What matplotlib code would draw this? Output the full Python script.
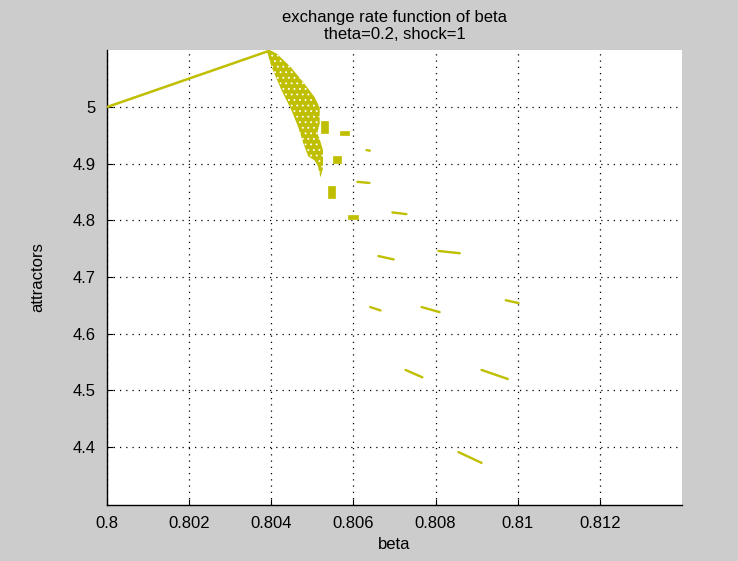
import matplotlib
matplotlib.use("Agg")
import matplotlib.pyplot as plt

plt.rcParams['font.family'] = ['Liberation Sans', 'DejaVu Sans']
plt.rcParams['hatch.linewidth'] = 0.6

# ---- data ----
# period-one branch
branch_beta = [0.8000, 0.80398]
branch_x = [5.000, 5.100]

# chaotic band outline (beta, attractor)
cloud_beta = [0.80398, 0.80414, 0.80448, 0.80482, 0.80506, 0.80518, 0.80518,
              0.80512, 0.80518, 0.80526, 0.80526, 0.80520, 0.80513, 0.80505,
              0.80490, 0.80478, 0.80465, 0.80448, 0.80424, 0.80400, 0.80390]
cloud_x = [5.100, 5.094, 5.070, 5.040, 5.017, 4.999, 4.971,
           4.954, 4.943, 4.924, 4.892, 4.876, 4.897, 4.906,
           4.913, 4.936, 4.966, 4.996, 5.031, 5.072, 5.097]

# small periodic blocks: beta_min, beta_max, x_min, x_max
block_beta0 = [0.80520, 0.80568, 0.80551, 0.80537, 0.80588]
block_beta1 = [0.80537, 0.80590, 0.80571, 0.80556, 0.80612]
block_x0 = [4.954, 4.951, 4.902, 4.840, 4.803]
block_x1 = [4.976, 4.957, 4.913, 4.861, 4.809]

# short periodic segments: start/end beta and attractor
seg_beta0 = [0.80632, 0.80610, 0.80695, 0.80661, 0.80807, 0.80641, 0.80766,
             0.80971, 0.80727, 0.80912, 0.80856]
seg_beta1 = [0.80640, 0.80639, 0.80729, 0.80698, 0.80859, 0.80666, 0.80810,
             0.81002, 0.80768, 0.80976, 0.80912]
seg_x0 = [4.924, 4.868, 4.814, 4.737, 4.746, 4.647, 4.647,
          4.659, 4.536, 4.536, 4.391]
seg_x1 = [4.923, 4.866, 4.811, 4.731, 4.742, 4.641, 4.638,
          4.654, 4.523, 4.520, 4.372]

x_ticks = [0.800, 0.802, 0.804, 0.806, 0.808, 0.810, 0.812]
x_ticklabels = ['0.8', '0.802', '0.804', '0.806', '0.808', '0.81', '0.812']
y_ticks = [4.4, 4.5, 4.6, 4.7, 4.8, 4.9, 5.0]
y_ticklabels = ['4.4', '4.5', '4.6', '4.7', '4.8', '4.9', '5']

col = '#BFBF00'

fig = plt.figure(figsize=(7.38, 5.61), dpi=100, facecolor='#cccccc')
ax = fig.add_axes([0.145, 0.0998, 0.779, 0.811])
ax.set_facecolor('white')

ax.plot(branch_beta, branch_x, color=col, lw=1.8, solid_capstyle='butt', zorder=3)

ax.fill(cloud_beta, cloud_x, facecolor=col, edgecolor='white', hatch='...',
        linewidth=0, zorder=3)

for b0, b1, y0, y1 in zip(block_beta0, block_beta1, block_x0, block_x1):
    ax.fill([b0, b1, b1, b0], [y0, y0, y1, y1], facecolor=col, edgecolor=col,
            linewidth=0.5, zorder=3)

for b0, b1, y0, y1 in zip(seg_beta0, seg_beta1, seg_x0, seg_x1):
    ax.plot([b0, b1], [y0, y1], color=col, lw=1.7, solid_capstyle='round', zorder=3)

ax.set_xlim(0.8, 0.814)
ax.set_ylim(4.2976, 5.1006)
ax.set_xticks(x_ticks)
ax.set_xticklabels(x_ticklabels)
ax.set_yticks(y_ticks)
ax.set_yticklabels(y_ticklabels)
ax.tick_params(direction='in', length=4, width=0.8, labelsize=12, pad=8,
               top=False, right=False)
ax.grid(True, color='black', linestyle=(0, (1, 4)), linewidth=0.9)
ax.set_axisbelow(True)
for s in ['top', 'right']:
    ax.spines[s].set_visible(False)
for s in ['left', 'bottom']:
    ax.spines[s].set_linewidth(1.0)

ax.set_title('exchange rate function of beta\ntheta=0.2, shock=1', fontsize=12,
             linespacing=1.2, pad=8)
ax.set_xlabel('beta', fontsize=12, labelpad=4)
ax.set_ylabel('attractors', fontsize=12, labelpad=20)

fig.savefig('out.png', dpi=100, facecolor=fig.get_facecolor())
